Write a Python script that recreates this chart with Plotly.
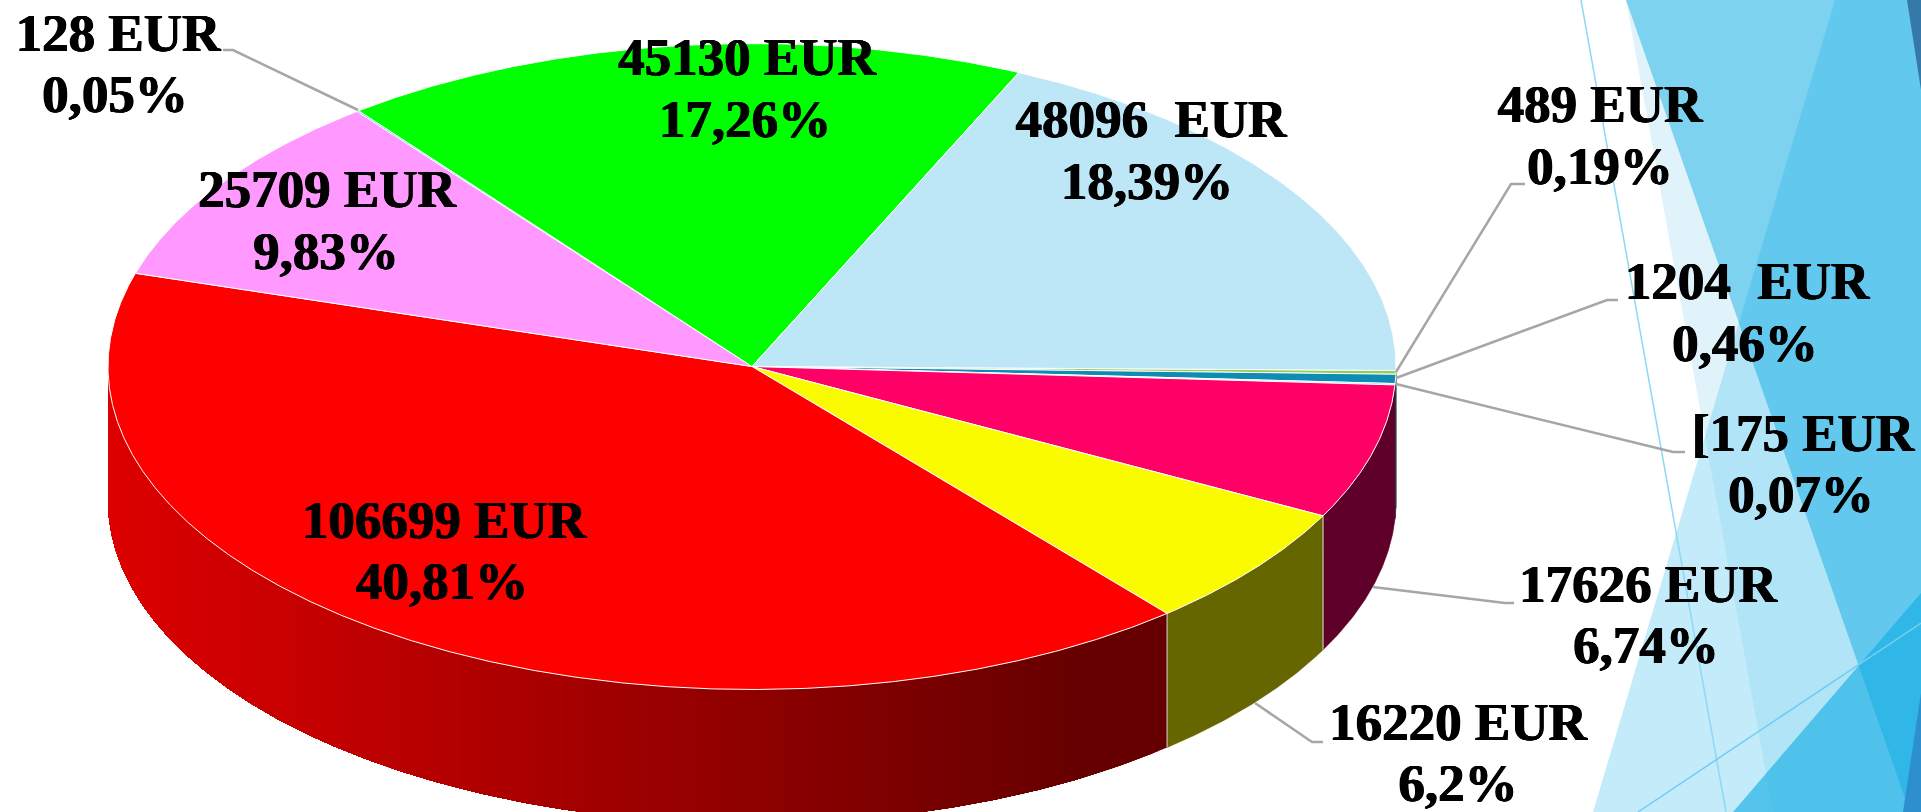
import math
import plotly.graph_objects as go

# ---------- data ----------
values = [489, 1204, 175, 17626, 16220, 106699, 25709, 128, 45130, 48096]
line1 = ["489 EUR", "1204  EUR", "[175 EUR", "17626 EUR", "16220 EUR", "106699 EUR",
         "25709 EUR", "128 EUR", "45130 EUR", "48096  EUR"]
line2 = ["0,19%", "0,46%", "0,07%", "6,74%", "6,2%", "40,81%",
         "9,83%", "0,05%", "17,26%", "18,39%"]
colors = ["#92D050", "#0F8CB4", "#66CCCC", "#FF0066", "#FBFB00", "#FF0000",
          "#FF99FF", "#00B0F0", "#00FF00", "#BDE7F6"]
wall_colors = ["#3A5320", "#063848", "#285252", "#5E002A", "#666600", None,
               "#662D66", "#004660", "#006600", "#4C5C62"]

# ---------- label placement (pixel centre x, baseline y) ----------
line1_x = [1600, 1747, 1803, 1648, 1458, 444, 327, 118, 747, 1151]
line1_y = [123, 300, 452, 603, 741, 539, 208, 52, 76, 138]
line2_x = [1600, 1745, 1801, 1646, 1458, 442, 326, 115, 745, 1147]
line2_y = [185, 362, 513, 664, 802, 600, 270, 113, 138, 200]

leaders = [
    ([1396, 1511, 1525], [372, 184, 184]),
    ([1396, 1607, 1618], [378, 300, 300]),
    ([1396, 1673, 1685], [384, 452, 452]),
    ([1373, 1505, 1514], [587, 603, 603]),
    ([1255, 1312, 1323], [703, 742, 742]),
    ([223, 233, 358], [50, 50, 110]),
]

# ---------- geometry / style ----------
W, H = 1921, 812
CX, CY, RX, RY = 752, 366.5, 644, 323
DEPTH = 134
START_DEG = 0.7
FONT_SIZE = 53
BASE_SHIFT = 14.5

backdrop = [
    ("M1626,0 L1773,812 L1921,812 L1921,0 Z", "#E0F3FB"),
    ("M1626,0 L1910,812 L1921,812 L1921,0 Z", "#7DD2EF"),
    ("M1835,0 L1593,812 L1921,812 L1921,0 Z", "rgba(100,203,240,0.387)"),
    ("M1739,323 L1910,812 L1921,812 L1921,0 L1835,0 Z", "#63C8EE"),
    ("M1921,593 L1733,812 L1921,812 Z", "rgba(17,173,228,0.62)"),
    ("M1907,0 L1921,90 L1921,0 Z", "#3579A8"),
    ("M1921,693 L1903,812 L1921,812 Z", "#2E8FCF"),
]
thin_lines = [
    (1581, 0, 1726, 812, "#8CD9F5"),
    (1921, 623, 1638, 812, "#6FCFF0"),
]


def rim(t_deg, extra=0.0):
    t = math.radians(t_deg)
    return CX + RX * math.cos(t), CY + RY * math.sin(t) + extra


def arc(a, b, extra=0.0, step=0.25):
    n = max(2, int(abs(b - a) / step) + 1)
    pts = [rim(a + (b - a) * i / (n - 1), extra) for i in range(n)]
    return [p[0] for p in pts], [p[1] for p in pts]


def wall(a, b, color, width=0.7):
    x1, y1 = arc(a, b)
    x2, y2 = arc(b, a, DEPTH)
    return go.Scatter(x=x1 + x2 + [x1[0]], y=y1 + y2 + [y1[0]], mode="lines",
                      fill="toself", fillcolor=color,
                      line=dict(color=color, width=width), hoverinfo="skip")


total = sum(values)
bounds = [START_DEG]
for v in values:
    bounds.append(bounds[-1] + 360.0 * v / total)

fig = go.Figure()

# side walls
for i, v in enumerate(values):
    a, b = bounds[i], bounds[i + 1]
    a2, b2 = max(a, 0), min(b, 180)
    if a2 >= b2:
        continue
    if wall_colors[i] is not None:
        fig.add_trace(wall(a2, b2, wall_colors[i]))
    else:
        # gradient side of the largest slice: shade follows the horizontal position.
        # Painted from the far end with each band reaching under the next one, so no seams.
        n = 130
        xl, xr = CX - RX, rim(a2)[0]
        for k in range(n):
            s0 = a2 + (b2 - a2) * k / n
            xm = rim(s0 + (b2 - a2) / (2 * n))[0]
            frac = (xm - xl) / (xr - xl)
            shade = 0.40 + 0.47 * (1 - min(frac / 0.92, 1.0))
            c = f"rgb({int(255 * shade)},0,0)"
            fig.add_trace(wall(s0, b2, c, width=0))

# seams between walls
for angle in (bounds[4], bounds[5]):
    x, y = rim(angle)
    fig.add_trace(go.Scatter(x=[x, x], y=[y, y + DEPTH], mode="lines",
                             line=dict(color="#D8D8D8", width=1), hoverinfo="skip"))

# top face
for i, v in enumerate(values):
    xs, ys = arc(bounds[i], bounds[i + 1])
    fig.add_trace(go.Scatter(x=[CX] + xs + [CX], y=[CY] + ys + [CY], mode="lines",
                             fill="toself", fillcolor=colors[i],
                             line=dict(color="white", width=1),
                             name=line1[i], hoverinfo="name"))

# leader lines
for lx, ly in leaders:
    fig.add_trace(go.Scatter(x=lx, y=ly, mode="lines",
                             line=dict(color="#A6A6A6", width=2.5), hoverinfo="skip"))

# labels
font = dict(family="Liberation Serif", size=FONT_SIZE, color="black", weight="bold",
            shadow="0.6px 0 0 black, -0.6px 0 0 black, 0 0.4px 0 black")
fig.add_trace(go.Scatter(x=line1_x, y=[b - BASE_SHIFT for b in line1_y], mode="text", text=line1,
                         textposition="middle center", textfont=font, hoverinfo="skip"))
fig.add_trace(go.Scatter(x=line2_x, y=[b - BASE_SHIFT for b in line2_y], mode="text", text=line2,
                         textposition="middle center", textfont=font, hoverinfo="skip"))

for path, col in backdrop:
    fig.add_shape(type="path", path=path, xref="x", yref="y", fillcolor=col,
                  line_width=0, layer="below")
for x0, y0, x1, y1, col in thin_lines:
    fig.add_shape(type="line", x0=x0, y0=y0, x1=x1, y1=y1, xref="x", yref="y",
                  line=dict(color=col, width=1.5), layer="below")

fig.update_layout(
    width=W, height=H, margin=dict(l=0, r=0, t=0, b=0),
    paper_bgcolor="white", plot_bgcolor="white", showlegend=False,
    xaxis=dict(range=[0, W], visible=False, fixedrange=True),
    yaxis=dict(range=[H, 0], visible=False, fixedrange=True),
)

fig.write_html("out.html", config={"displayModeBar": False},
               post_script="document.body.style.margin='0';document.body.style.overflow='hidden';")
